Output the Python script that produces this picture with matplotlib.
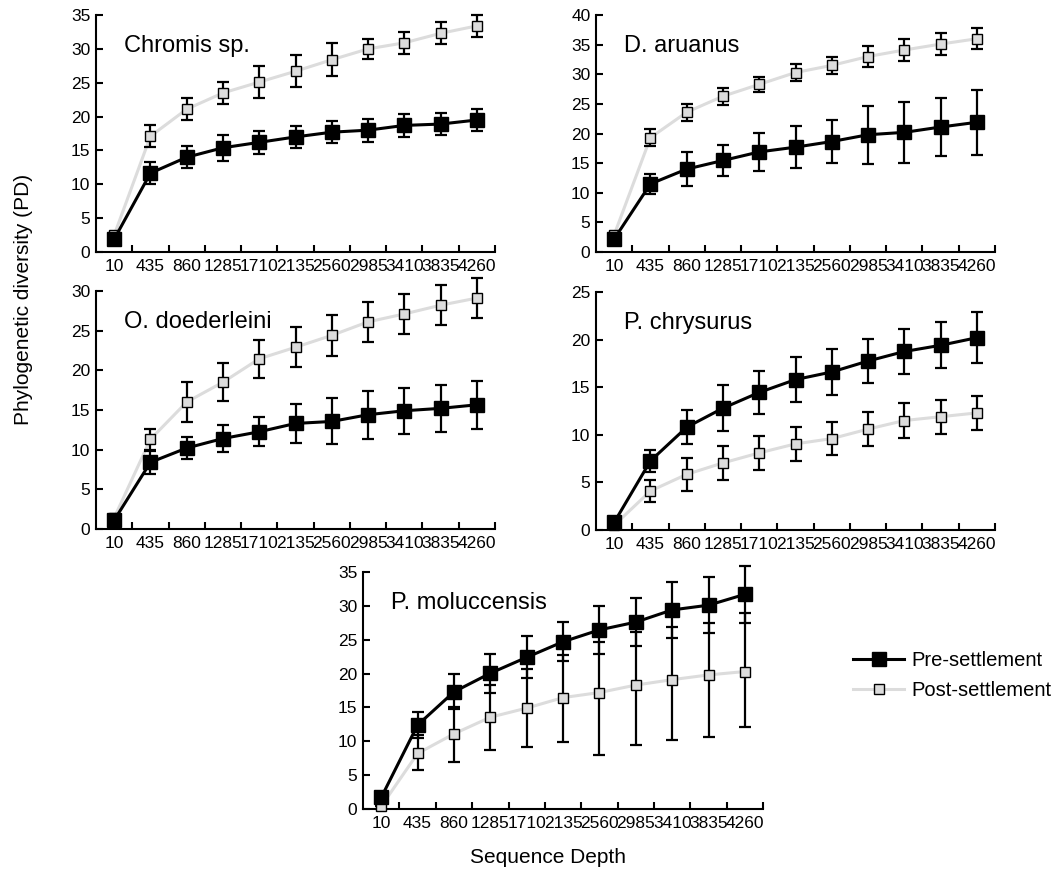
import matplotlib
matplotlib.use("Agg")
import matplotlib.pyplot as plt
from matplotlib.lines import Line2D

plt.rcParams['font.family'] = ['Liberation Sans', 'DejaVu Sans']

depths = ["10", "435", "860", "1285", "1710", "2135", "2560", "2985", "3410", "3835", "4260"]

titles = ["Chromis sp.", "D. aruanus", "O. doederleini", "P. chrysurus", "P. moluccensis"]
ymaxes = [35, 40, 30, 25, 35]

# Chromis sp.
chromis_pre = [1.9, 11.65, 14.0, 15.4, 16.2, 17.0, 17.7, 18.0, 18.7, 18.9, 19.5]
chromis_pre_err = [0.0, 1.6, 1.6, 1.9, 1.65, 1.6, 1.6, 1.7, 1.65, 1.65, 1.6]
chromis_post = [2.5, 17.1, 21.1, 23.5, 25.1, 26.7, 28.4, 30.0, 30.9, 32.3, 33.4]
chromis_post_err = [0.0, 1.6, 1.6, 1.65, 2.4, 2.4, 2.4, 1.5, 1.6, 1.6, 1.65]

# D. aruanus
aruanus_pre = [2.2, 11.5, 14.0, 15.45, 16.9, 17.7, 18.65, 19.8, 20.2, 21.1, 21.9]
aruanus_pre_err = [0.0, 1.75, 2.8, 2.7, 3.2, 3.5, 3.6, 4.9, 5.1, 4.95, 5.45]
aruanus_post = [2.9, 19.3, 23.6, 26.3, 28.3, 30.3, 31.5, 33.0, 34.1, 35.1, 36.0]
aruanus_post_err = [0.0, 1.4, 1.4, 1.4, 1.3, 1.4, 1.4, 1.85, 1.85, 1.8, 1.8]

# O. doederleini
doederleini_pre = [1.1, 8.4, 10.2, 11.4, 12.25, 13.3, 13.55, 14.4, 14.9, 15.2, 15.65]
doederleini_pre_err = [0.0, 1.45, 1.4, 1.7, 1.8, 2.5, 2.9, 3.0, 2.9, 2.95, 3.0]
doederleini_post = [1.4, 11.3, 16.0, 18.5, 21.45, 22.9, 24.4, 26.1, 27.1, 28.2, 29.1]
doederleini_post_err = [0.0, 1.3, 2.5, 2.4, 2.4, 2.5, 2.55, 2.5, 2.5, 2.5, 2.5]

# P. chrysurus
chrysurus_pre = [0.8, 7.26, 10.8, 12.8, 14.45, 15.8, 16.6, 17.75, 18.75, 19.4, 20.2]
chrysurus_pre_err = [0.0, 1.15, 1.8, 2.4, 2.3, 2.35, 2.4, 2.35, 2.4, 2.4, 2.65]
chrysurus_post = [0.5, 4.1, 5.85, 7.05, 8.1, 9.05, 9.6, 10.6, 11.5, 11.9, 12.3]
chrysurus_post_err = [0.0, 1.15, 1.75, 1.8, 1.8, 1.8, 1.75, 1.8, 1.8, 1.8, 1.8]

# P. moluccensis (post-settlement bars read as lower / upper extents)
moluccensis_pre = [1.7, 12.4, 17.3, 20.05, 22.4, 24.7, 26.45, 27.6, 29.4, 30.1, 31.7]
moluccensis_pre_err = [0.0, 1.9, 2.6, 2.9, 3.1, 2.9, 3.55, 3.55, 4.1, 4.1, 4.2]
moluccensis_post = [0.4, 8.2, 11.1, 13.55, 14.9, 16.45, 17.2, 18.3, 19.1, 19.8, 20.3]
moluccensis_post_err_lo = [0.0, 2.45, 4.1, 4.85, 5.7, 6.6, 9.2, 8.8, 8.9, 9.1, 8.15]
moluccensis_post_err_hi = [0.0, 2.7, 4.0, 4.75, 5.8, 6.35, 7.5, 7.9, 7.8, 7.7, 8.6]

pre_series = [chromis_pre, aruanus_pre, doederleini_pre, chrysurus_pre, moluccensis_pre]
pre_errs = [chromis_pre_err, aruanus_pre_err, doederleini_pre_err, chrysurus_pre_err, moluccensis_pre_err]
post_series = [chromis_post, aruanus_post, doederleini_post, chrysurus_post, moluccensis_post]
post_errs = [chromis_post_err, aruanus_post_err, doederleini_post_err, chrysurus_post_err,
             [moluccensis_post_err_lo, moluccensis_post_err_hi]]

positions = [
    [0.0906, 0.7136, 0.3764, 0.2693],
    [0.5623, 0.7136, 0.3764, 0.2693],
    [0.0906, 0.3989, 0.3764, 0.2705],
    [0.5623, 0.3977, 0.3764, 0.2705],
    [0.3425, 0.0807, 0.3774, 0.2693],
]

fig = plt.figure(figsize=(10.6, 8.8), dpi=100)
GRAY = "#dcdcdc"

x = list(range(len(depths)))
for i in range(5):
    ax = fig.add_axes(positions[i])
    ax.plot(x, post_series[i], color=GRAY, lw=2.2, zorder=2, clip_on=False)
    ax.errorbar(x, post_series[i], yerr=post_errs[i], fmt='none', ecolor='black',
                elinewidth=1.6, capsize=4.5, capthick=1.6, zorder=3, clip_on=False)
    ax.plot(x, post_series[i], ls='none', marker='s', ms=7.5, mfc=GRAY, mec='black',
            mew=1.0, zorder=4, clip_on=False)
    ax.plot(x, pre_series[i], color='black', lw=2.2, zorder=5, clip_on=False)
    ax.errorbar(x, pre_series[i], yerr=pre_errs[i], fmt='none', ecolor='black',
                elinewidth=1.6, capsize=4.5, capthick=1.6, zorder=6, clip_on=False)
    ax.plot(x, pre_series[i], ls='none', marker='s', ms=9.5, mfc='black', mec='black',
            mew=1.0, zorder=7, clip_on=False)

    ax.set_xlim(-0.5, len(depths) - 0.5)
    ax.set_ylim(0, ymaxes[i])
    ax.set_yticks(range(0, ymaxes[i] + 1, 5))
    ax.set_xticks(x)
    ax.set_xticklabels(depths)
    ax.set_xticks([k + 0.5 for k in x], minor=True)
    ax.tick_params(axis='x', which='major', length=0, labelsize=12.5, pad=5)
    ax.tick_params(axis='x', which='minor', direction='in', length=5, width=1.5)
    ax.tick_params(axis='y', which='major', direction='in', length=5, width=1.5,
                   labelsize=12.5, pad=4)
    for s in ['top', 'right']:
        ax.spines[s].set_visible(False)
    for s in ['left', 'bottom']:
        ax.spines[s].set_linewidth(1.5)
    ax.text(0.07, 0.87, titles[i], transform=ax.transAxes, fontsize=17,
            ha='left', va='center')

fig.text(0.022, 0.66, "Phylogenetic diversity (PD)", rotation=90, fontsize=15,
         ha='center', va='center')
fig.text(0.517, 0.026, "Sequence Depth", fontsize=15, ha='center', va='center')

handles = [
    Line2D([], [], color='black', lw=2.2, marker='s', ms=9.5, mfc='black', mec='black'),
    Line2D([], [], color=GRAY, lw=2.2, marker='s', ms=7.5, mfc=GRAY, mec='black', mew=1.0),
]
fig.legend(handles, ["Pre-settlement", "Post-settlement"], loc='center left',
           bbox_to_anchor=(0.788, 0.232), frameon=False, fontsize=14.5,
           handlelength=2.5, handletextpad=0.4, labelspacing=0.55)

fig.savefig("out.png", dpi=100)
